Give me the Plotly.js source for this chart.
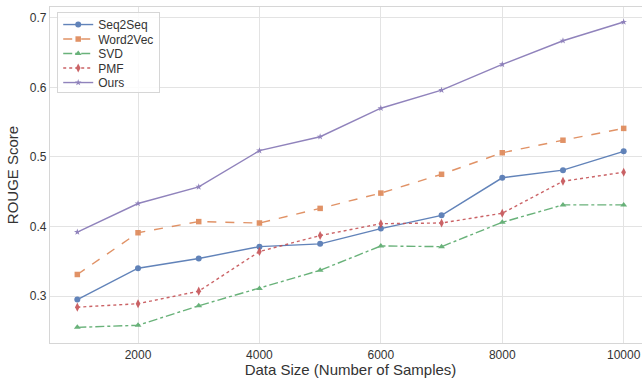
<!DOCTYPE html>
<html>
<head>
<meta charset="utf-8">
<script src="https://cdn.plot.ly/plotly-3.0.1.min.js"></script>
<style>
html, body { margin: 0; padding: 0; overflow: hidden; background: #fff; }
#chart { width: 656px; height: 378px; }
</style>
</head>
<body>
<div id="chart"></div>
<script>
const dataSizes = [1000, 2000, 3000, 4000, 5000, 6000, 7000, 8000, 9000, 10000];
const seq2seq  = [0.295, 0.340, 0.354, 0.371, 0.375, 0.397, 0.416, 0.470, 0.481, 0.508];
const word2vec = [0.331, 0.391, 0.407, 0.405, 0.426, 0.448, 0.475, 0.506, 0.524, 0.541];
const svd      = [0.255, 0.258, 0.286, 0.311, 0.337, 0.372, 0.371, 0.406, 0.431, 0.431];
const pmf      = [0.284, 0.289, 0.307, 0.364, 0.387, 0.404, 0.405, 0.419, 0.465, 0.478];
const ours     = [0.392, 0.433, 0.457, 0.509, 0.529, 0.570, 0.596, 0.633, 0.667, 0.694];
const xTicks = [2000, 4000, 6000, 8000, 10000];
const yTicks = [0.3, 0.4, 0.5, 0.6, 0.7];

function series(name, y, color, dash, symbol, size) {
  return {
    x: dataSizes, y: y, name: name, type: 'scatter', mode: 'lines+markers',
    line: {color: color, width: 1.4, dash: dash},
    marker: {color: color, symbol: symbol, size: size},
    opacity: 0.88
  };
}

const traces = [
  series('Seq2Seq', seq2seq, '#4c72b0', 'solid', 'circle', 6),
  series('Word2Vec', word2vec, '#dd8452', 'dash', 'square', 5.5),
  series('SVD', svd, '#55a868', 'dashdot', 'triangle-up', 6),
  series('PMF', pmf, '#c44e52', 'dot', 'diamond-tall', 6.5),
  series('Ours', ours, '#8172b3', 'solid', 'star', 5)
];

const FAM = 'Liberation Sans, Arial, sans-serif';
const axisFont = {family: FAM, size: 12, color: '#333'};

const layout = {
  width: 656, height: 378,
  margin: {l: 50, r: 5, t: 7, b: 35},
  paper_bgcolor: '#fff', plot_bgcolor: '#fff',
  font: {family: FAM, color: '#333'},
  showlegend: true,
  legend: {
    x: 0.012, y: 0.985, xanchor: 'left', yanchor: 'top',
    bgcolor: 'rgba(255,255,255,0.85)', bordercolor: '#d6d6d6', borderwidth: 1,
    font: {family: FAM, size: 12, color: '#333'},
    tracegroupgap: 0, itemwidth: 30
  },
  xaxis: {
    range: [550, 10450], tickvals: xTicks, ticktext: xTicks.map(String),
    showgrid: true, gridcolor: '#e3e3e3', gridwidth: 1,
    showline: true, linecolor: '#d6d6d6', linewidth: 1.2, mirror: true,
    zeroline: false, ticks: '', tickfont: axisFont,
    title: {text: 'Data Size (Number of Samples)', font: {family: FAM, size: 15, color: '#333'}, standoff: 2}
  },
  yaxis: {
    range: [0.2325, 0.7155], tickvals: yTicks, ticktext: yTicks.map(v => v.toFixed(1)),
    showgrid: true, gridcolor: '#e3e3e3', gridwidth: 1,
    showline: true, linecolor: '#d6d6d6', linewidth: 1.2, mirror: true,
    zeroline: false, ticks: '', tickfont: axisFont,
    title: {text: 'ROUGE Score', font: {family: FAM, size: 15, color: '#333'}, standoff: 7}
  }
};

const gd = document.getElementById('chart');
Plotly.newPlot(gd, traces, layout, {staticPlot: true, displayModeBar: false}).then(() => {
  // compact the legend rows (matplotlib-like spacing)
  const items = gd.querySelectorAll('.legend .traces');
  if (!items.length) return;
  const parse = (g) => {
    const m = /translate\(\s*([-\d.]+)[ ,]+([-\d.]+)\s*\)/.exec(g.getAttribute('transform') || '');
    return m ? [parseFloat(m[1]), parseFloat(m[2])] : [0, 0];
  };
  const [x0, y0] = parse(items[0]);
  const step = 14.5;
  const first = y0 - 3;
  items.forEach((g, i) => {
    const [xi] = parse(g);
    g.setAttribute('transform', 'translate(' + xi + ',' + (first + step * i) + ')');
  });
  const bg = gd.querySelector('.legend .bg');
  if (bg) bg.setAttribute('height', String(first + step * (items.length - 1) + 9));
});
</script>
</body>
</html>
